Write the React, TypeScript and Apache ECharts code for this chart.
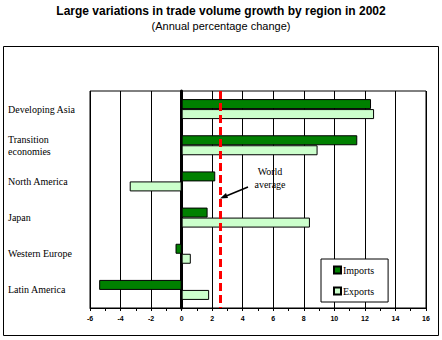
import React, { useEffect, useRef } from "react";
import * as echarts from "echarts";

const categories = [
  "Developing Asia",
  "Transition\neconomies",
  "North America",
  "Japan",
  "Western Europe",
  "Latin America",
];
const imports = [12.4, 11.5, 2.2, 1.7, -0.4, -5.4];
const exports = [12.6, 8.9, -3.4, 8.4, 0.6, 1.8];
const worldAverage = 2.5;
const xTicks = { min: -6, max: 16, interval: 2 };

export default function App() {
  const ref = useRef<HTMLDivElement>(null);
  useEffect(() => {
    document.body.style.margin = "0";
    const chart = echarts.init(ref.current!, null, { renderer: "svg" });
    const serif = "Liberation Serif";
    chart.setOption({
      animation: false,
      backgroundColor: "#fff",
      title: {
        text: "Large variations in trade volume growth by region in 2002",
        subtext: "(Annual percentage change)",
        left: "center",
        top: 0,
        itemGap: 3,
        textStyle: { fontFamily: "Liberation Sans", fontSize: 12, fontWeight: "bold", color: "#000" },
        subtextStyle: { fontFamily: "Liberation Sans", fontSize: 11, color: "#000" },
      },
      grid: {
        left: 90,
        right: 16,
        top: 91,
        bottom: 32,
        show: true,
        borderColor: "#000",
        borderWidth: 1,
        backgroundColor: "transparent",
      },
      legend: {
        orient: "vertical",
        left: 321,
        top: 259,
        width: 64,
        padding: [6, 14, 6, 12],
        itemGap: 11,
        itemWidth: 7,
        itemHeight: 7,
        icon: "rect",
        borderColor: "#000",
        borderWidth: 1,
        backgroundColor: "#fff",
        textStyle: { fontFamily: serif, fontSize: 10, color: "#000", padding: [0, 0, 0, -3] },
        data: ["Imports", "Exports"],
      },
      xAxis: {
        type: "value",
        min: xTicks.min,
        max: xTicks.max,
        interval: xTicks.interval,
        axisLine: { show: true, lineStyle: { color: "#000", width: 1 } },
        axisTick: { show: true, length: 3, lineStyle: { color: "#000" } },
        minorTick: { show: true, splitNumber: 2, length: 3, lineStyle: { color: "#000" } },
        splitLine: { show: true, lineStyle: { color: "#000", width: 1 } },
        axisLabel: {
          fontFamily: "Liberation Sans",
          fontSize: 7,
          fontWeight: "bold",
          color: "#000",
          margin: 7,
        },
      },
      yAxis: {
        type: "category",
        data: categories,
        inverse: true,
        axisLine: { show: true, onZero: true, lineStyle: { color: "#000", width: 3 } },
        axisTick: { show: false },
        axisLabel: {
          align: "left",
          margin: 82,
          fontFamily: serif,
          fontSize: 10,
          lineHeight: 12,
          color: "#000",
        },
      },
      series: [
        {
          name: "Imports",
          type: "bar",
          data: imports,
          barWidth: 10,
          barGap: "0%",
          itemStyle: { color: "#008000", borderColor: "#000", borderWidth: 1 },
          markLine: {
            silent: true,
            symbol: "none",
            label: { show: false },
            lineStyle: { color: "#ff0000", width: 3, type: [8, 4] },
            data: [{ xAxis: worldAverage }],
          },
        },
        {
          name: "Exports",
          type: "bar",
          data: exports,
          barWidth: 10,
          barGap: "0%",
          itemStyle: { color: "#ccffcc", borderColor: "#000", borderWidth: 1 },
        },
      ],
      graphic: [
        {
          type: "rect",
          shape: { x: 3.5, y: 46.5, width: 435, height: 289 },
          style: { fill: "none", stroke: "#000", lineWidth: 1 },
          silent: true,
        },
        {
          type: "text",
          x: 270,
          y: 165,
          style: {
            text: "World\naverage",
            fontFamily: serif,
            fontSize: 10,
            lineHeight: 13,
            fill: "#000",
            align: "center",
          },
        },
        {
          type: "line",
          shape: { x1: 248, y1: 187, x2: 225, y2: 196.5 },
          style: { stroke: "#000", lineWidth: 1.5 },
        },
        {
          type: "polygon",
          shape: { points: [[220, 198.5], [226, 193], [228, 198]] },
          style: { fill: "#000" },
        },
      ],
    });
    return () => chart.dispose();
  }, []);
  return <div ref={ref} style={{ width: 442, height: 340 }} />;
}
